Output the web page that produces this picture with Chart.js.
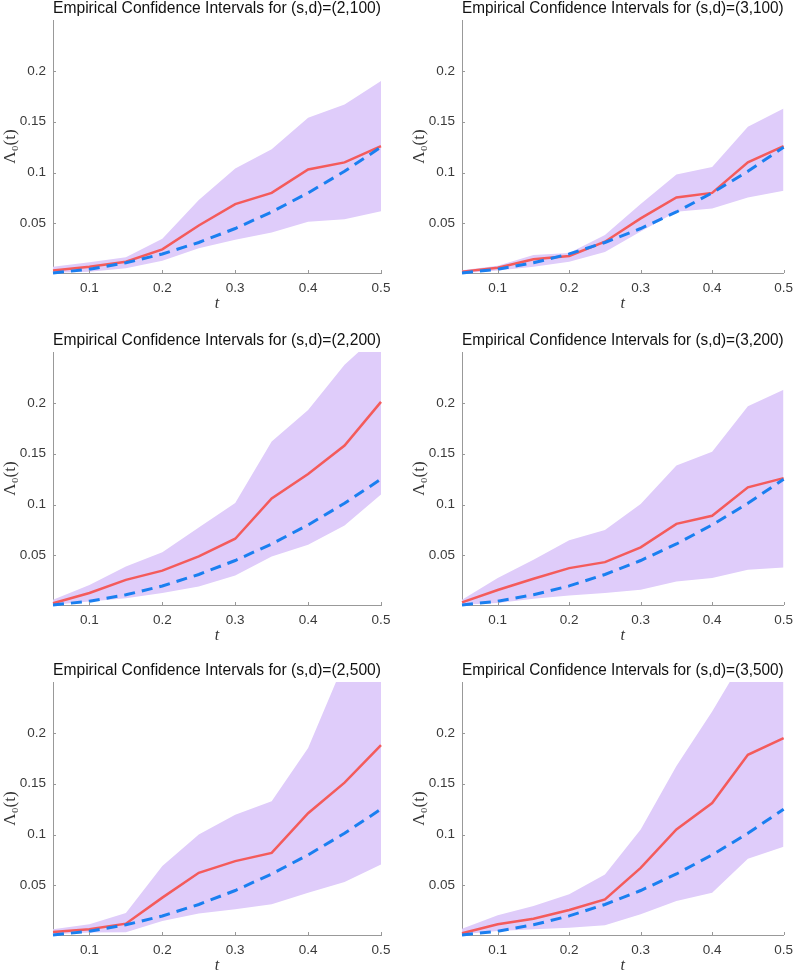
<!DOCTYPE html>
<html>
<head>
<meta charset="utf-8">
<script src="https://cdn.jsdelivr.net/npm/chart.js@4.4.0/dist/chart.umd.min.js"></script>
<style>
  body { margin:0; background:#fff; width:800px; height:970px; overflow:hidden; position:relative; }
  canvas { position:absolute; }
</style>
</head>
<body>
<canvas id="c1" width="400" height="313" style="left:0;top:0"></canvas>
<canvas id="c2" width="391" height="313" style="left:409px;top:0"></canvas>
<canvas id="c3" width="400" height="313" style="left:0;top:332px"></canvas>
<canvas id="c4" width="391" height="313" style="left:409px;top:332px"></canvas>
<canvas id="c5" width="400" height="313" style="left:0;top:662px"></canvas>
<canvas id="c6" width="391" height="313" style="left:409px;top:662px"></canvas>
<script>
// data
const t = [0.05, 0.1, 0.15, 0.2, 0.25, 0.3, 0.35, 0.4, 0.45, 0.5];
const truth = [0.00125, 0.005, 0.01125, 0.02, 0.03125, 0.045, 0.06125, 0.08, 0.10125, 0.125];

const xTicks = [0.1, 0.2, 0.3, 0.4, 0.5];
const xTickLabels = ['0.1', '0.2', '0.3', '0.4', '0.5'];
const yTicks = [0.05, 0.1, 0.15, 0.2];
const yTickLabels = ['0.05', '0.1', '0.15', '0.2'];

const est_2_100 = [0.0036, 0.0075, 0.0124, 0.0245, 0.048, 0.069, 0.080, 0.103, 0.110, 0.126];
const up_2_100  = [0.0075, 0.0118, 0.0167, 0.035, 0.073, 0.104, 0.123, 0.154, 0.167, 0.190];
const lo_2_100  = [0.0016, 0.0026, 0.006, 0.0134, 0.0255, 0.034, 0.041, 0.0516, 0.054, 0.062];

const est_3_100 = [0.0026, 0.0065, 0.0147, 0.018, 0.032, 0.055, 0.0755, 0.080, 0.110, 0.126];
const up_3_100  = [0.004, 0.0085, 0.019, 0.021, 0.0385, 0.069, 0.098, 0.1055, 0.145, 0.163];
const lo_3_100  = [0.001, 0.0036, 0.0075, 0.0124, 0.022, 0.042, 0.0614, 0.0647, 0.0755, 0.082];

const est_2_200 = [0.003, 0.013, 0.026, 0.035, 0.049, 0.0664, 0.106, 0.13, 0.158, 0.201];
const up_2_200  = [0.0064, 0.021, 0.039, 0.053, 0.0775, 0.1015, 0.162, 0.193, 0.2375, 0.27];
const lo_2_200  = [0.0015, 0.0048, 0.008, 0.013, 0.0195, 0.0303, 0.049, 0.0605, 0.0795, 0.110];

const est_3_200 = [0.0038, 0.016, 0.027, 0.0375, 0.0434, 0.058, 0.081, 0.089, 0.117, 0.126];
const up_3_200  = [0.0064, 0.0277, 0.0457, 0.065, 0.075, 0.1005, 0.1385, 0.152, 0.1966, 0.213];
const lo_3_200  = [0.0015, 0.0031, 0.0074, 0.0107, 0.013, 0.0162, 0.0244, 0.0277, 0.0359, 0.038];

const est_2_500 = [0.0042, 0.0068, 0.0124, 0.038, 0.0624, 0.0739, 0.082, 0.121, 0.151, 0.188];
const up_2_500  = [0.0069, 0.0118, 0.023, 0.069, 0.10, 0.1196, 0.1327, 0.185, 0.27, 0.31];
const lo_2_500  = [0.002, 0.0036, 0.004, 0.015, 0.0225, 0.0265, 0.0314, 0.0428, 0.0533, 0.0706];

const est_3_500 = [0.003, 0.0118, 0.0173, 0.0258, 0.0363, 0.0673, 0.105, 0.131, 0.1784, 0.1948];
const up_3_500  = [0.0075, 0.0206, 0.0297, 0.0412, 0.0608, 0.105, 0.1673, 0.221, 0.28, 0.32];
const lo_3_500  = [0.002, 0.0052, 0.0069, 0.0085, 0.0108, 0.0216, 0.0346, 0.0428, 0.0761, 0.088];

const sans = '"Liberation Sans", Arial, sans-serif';
const serif = '"Liberation Serif", "DejaVu Serif", serif';
const blue = '#1a7ff0';
const red = '#f45b5b';
const band = '#dfccfa';
const axisGray = '#999';

function pts(arr) {
  return arr.map((v, i) => ({ x: t[i], y: v }));
}

// little inward tick marks, MATLAB style
const inTicks = {
  id: 'inTicks',
  afterDatasetsDraw(chart) {
    const { ctx, chartArea: a, scales: { x, y } } = chart;
    ctx.save();
    ctx.strokeStyle = axisGray;
    ctx.lineWidth = 1;
    ctx.beginPath();
    x.ticks.forEach(tk => {
      const px = Math.round(x.getPixelForValue(tk.value)) + 0.5;
      ctx.moveTo(px, a.bottom);
      ctx.lineTo(px, a.bottom - 3);
    });
    y.ticks.forEach(tk => {
      const py = Math.round(y.getPixelForValue(tk.value)) + 0.5;
      ctx.moveTo(a.left, py);
      ctx.lineTo(a.left + 3, py);
    });
    ctx.stroke();
    ctx.restore();
  }
};

function makePanel(id, title, est, up, lo, padRight) {
  new Chart(document.getElementById(id), {
    type: 'line',
    data: {
      datasets: [
        { data: pts(truth), borderColor: blue, borderWidth: 3, borderDash: [11, 7], pointRadius: 0, fill: false, clip: 4 },
        { data: pts(est), borderColor: red, borderWidth: 2.5, pointRadius: 0, fill: false, clip: 4 },
        { data: pts(up), borderColor: 'rgba(0,0,0,0)', borderWidth: 0, pointRadius: 0, backgroundColor: band, fill: '+1' },
        { data: pts(lo), borderColor: 'rgba(0,0,0,0)', borderWidth: 0, pointRadius: 0, fill: false }
      ]
    },
    options: {
      responsive: false,
      animation: false,
      layout: { padding: { right: padRight } },
      plugins: {
        legend: { display: false },
        tooltip: { enabled: false },
        filler: { drawTime: 'beforeDatasetsDraw' },
        title: {
          display: true,
          text: title,
          fullSize: false,
          color: '#111',
          font: { family: sans, size: 16, weight: 'normal', lineHeight: 1.0 },
          padding: { top: 1, bottom: 3 }
        }
      },
      scales: {
        x: {
          type: 'linear',
          min: 0.05,
          max: 0.5,
          grid: { display: false, drawTicks: false },
          border: { color: axisGray },
          afterBuildTicks: s => { s.ticks = xTicks.map(v => ({ value: v })); },
          afterFit: s => { s.height = 40; },
          ticks: {
            padding: 7,
            color: '#3a3a3a',
            font: { family: sans, size: 13.5 },
            maxRotation: 0,
            callback: (v, i) => xTickLabels[i]
          },
          title: {
            display: true,
            text: 't',
            color: '#333',
            font: { family: serif, size: 16, style: 'italic', lineHeight: 1.0 },
            padding: { top: 0, bottom: 1 }
          }
        },
        y: {
          type: 'linear',
          min: 0.00125,
          max: 0.25,
          grid: { display: false, drawTicks: false },
          border: { color: axisGray },
          afterBuildTicks: s => { s.ticks = yTicks.map(v => ({ value: v })); },
          afterFit: s => { s.width = 53; },
          ticks: {
            padding: 7,
            color: '#3a3a3a',
            font: { family: sans, size: 13.5 },
            callback: (v, i) => yTickLabels[i]
          },
          title: {
            display: true,
            text: 'Λ₀(t)',
            color: '#333',
            font: { family: serif, size: 17, lineHeight: 1.1 },
            padding: { top: 1, bottom: 0 }
          }
        }
      }
    },
    plugins: [inTicks]
  });
}

makePanel('c1', 'Empirical Confidence Intervals for (s,d)=(2,100)', est_2_100, up_2_100, lo_2_100, 19);
makePanel('c2', 'Empirical Confidence Intervals for (s,d)=(3,100)', est_3_100, up_3_100, lo_3_100, 10);
makePanel('c3', 'Empirical Confidence Intervals for (s,d)=(2,200)', est_2_200, up_2_200, lo_2_200, 19);
makePanel('c4', 'Empirical Confidence Intervals for (s,d)=(3,200)', est_3_200, up_3_200, lo_3_200, 10);
makePanel('c5', 'Empirical Confidence Intervals for (s,d)=(2,500)', est_2_500, up_2_500, lo_2_500, 19);
makePanel('c6', 'Empirical Confidence Intervals for (s,d)=(3,500)', est_3_500, up_3_500, lo_3_500, 10);
</script>
</body>
</html>
